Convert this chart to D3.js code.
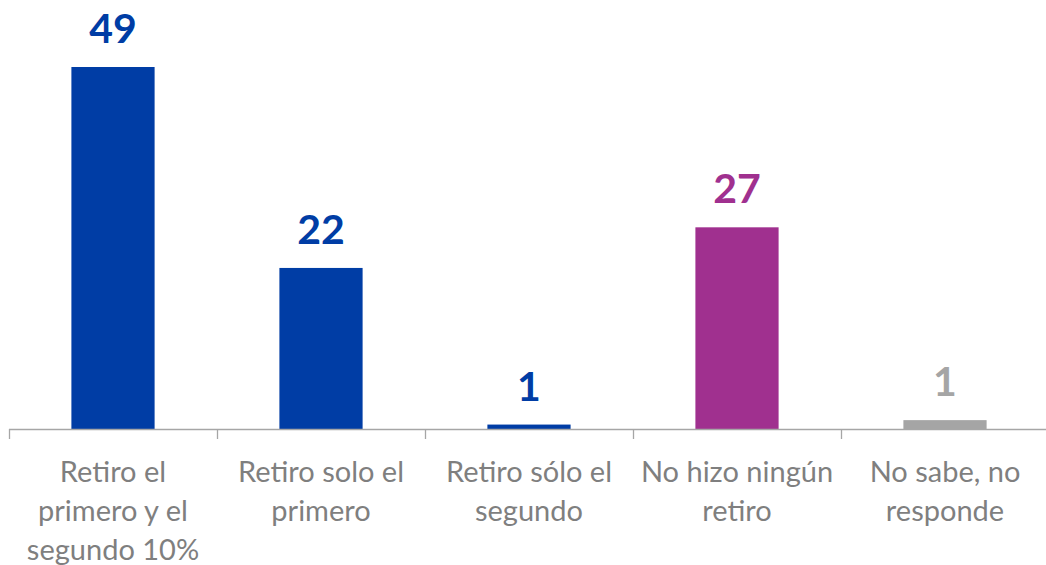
<!doctype html>
<html>
  <head>
    <meta charset="utf-8" />
    <title>Retiro 10%</title>
    <script type="text/javascript" src="https://cdnjs.cloudflare.com/ajax/libs/d3/7.8.5/d3.min.js"></script>
    <style>
      body {
        margin:0;
        background:#fff;
      }
      .chart > svg {
        display:block;
      }
    </style>
  </head>
  <body>
    <div class="chart"></div>
    <script type="text/javascript">

/*chart data*/
var categories = [
  "Retiro el primero y el segundo 10%",
  "Retiro solo el primero",
  "Retiro sólo el segundo",
  "No hizo ningún retiro",
  "No sabe, no responde"
];
var category_lines = [
  ["Retiro el", "primero y el", "segundo 10%"],
  ["Retiro solo el", "primero"],
  ["Retiro sólo el", "segundo"],
  ["No hizo ningún", "retiro"],
  ["No sabe, no", "responde"]
];
var values = [49, 21.8, 0.6, 27.3, 1.2];
var value_labels = ["49", "22", "1", "27", "1"];
var colors = ["#003DA5", "#003DA5", "#003DA5", "#A0308F", "#A5A5A5"];

var width = 1046, height = 565;
var baseline = 429;

var svg = d3.select(".chart").append("svg")
  .attr("width", width)
  .attr("height", height);

/*one band per category; bars take 40% of the band*/
var x = d3.scaleBand()
  .domain(categories)
  .range([9, 1049])
  .padding(0);

var y = d3.scaleLinear()
  .domain([0, 49])
  .range([baseline, 67]);

var bar_w = x.bandwidth() * 0.4;

svg.selectAll("rect.bar")
  .data(values)
  .enter()
  .append("rect")
  .attr("class", "bar")
  .attr("x", function(d, i) { return x(categories[i]) + (x.bandwidth() - bar_w) / 2; })
  .attr("y", function(d) { return y(d); })
  .attr("width", bar_w)
  .attr("height", function(d) { return baseline - y(d); })
  .attr("fill", function(d, i) { return colors[i]; });

/*axis line and tick marks between categories*/
svg.append("line")
  .attr("x1", 9).attr("x2", width)
  .attr("y1", baseline + 0.5).attr("y2", baseline + 0.5)
  .attr("stroke", "#A6A6A6")
  .attr("stroke-width", 1.3);

svg.selectAll("line.tick")
  .data(categories)
  .enter()
  .append("line")
  .attr("class", "tick")
  .attr("x1", function(d) { return x(d) + 0.5; })
  .attr("x2", function(d) { return x(d) + 0.5; })
  .attr("y1", baseline)
  .attr("y2", baseline + 10)
  .attr("stroke", "#A6A6A6")
  .attr("stroke-width", 1.3);

/*value labels above bars*/
svg.selectAll("text.value")
  .data(values)
  .enter()
  .append("text")
  .attr("class", "value")
  .attr("x", function(d, i) { return x(categories[i]) + x.bandwidth() / 2; })
  .attr("y", function(d) { return y(d) - 24; })
  .attr("text-anchor", "middle")
  .attr("font-family", "Lato, sans-serif")
  .attr("font-weight", "bold")
  .attr("font-size", "41px")
  .attr("fill", function(d, i) { return colors[i]; })
  .text(function(d, i) { return value_labels[i]; });

/*category labels, wrapped*/
var cat = svg.selectAll("text.cat")
  .data(categories)
  .enter()
  .append("text")
  .attr("class", "cat")
  .attr("text-anchor", "middle")
  .attr("font-family", "Lato, sans-serif")
  .attr("font-size", "29px")
  .attr("fill", "#7F7F7F");

cat.selectAll("tspan")
  .data(function(d, i) {
    return category_lines[i].map(function(t) { return {t: t, cx: x(d) + x.bandwidth() / 2}; });
  })
  .enter()
  .append("tspan")
  .attr("x", function(d) { return d.cx; })
  .attr("y", function(d, j) { return 482 + j * 39; })
  .text(function(d) { return d.t; });

    </script>
  </body>
</html>
